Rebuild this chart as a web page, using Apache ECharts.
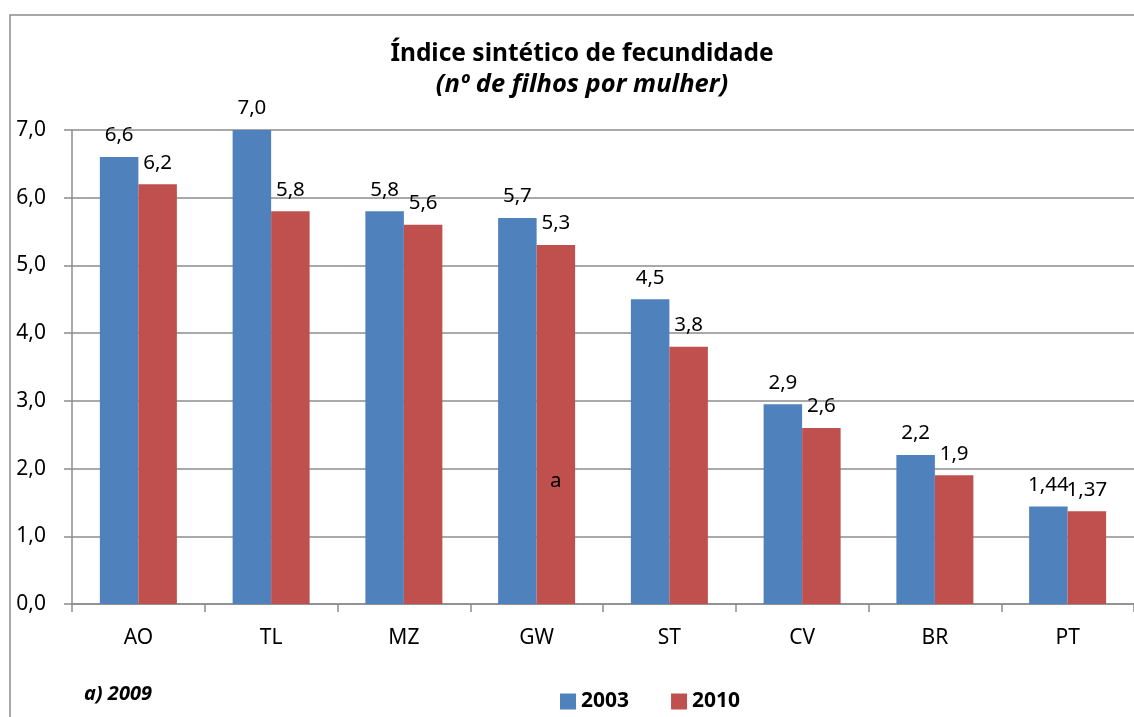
<!DOCTYPE html>
<html>
<head>
<meta charset="utf-8">
<script src="https://cdn.jsdelivr.net/npm/echarts@6/dist/echarts.min.js"></script>
<style>
  html, body { margin: 0; padding: 0; background: #fff; }
  #chart { width: 1134px; height: 717px; }
</style>
</head>
<body>
<div id="chart"></div>
<script>
// data
var categories = ["AO", "TL", "MZ", "GW", "ST", "CV", "BR", "PT"];
var values2003 = [6.6, 7.0, 5.8, 5.7, 4.5, 2.95, 2.2, 1.44];
var values2010 = [6.2, 5.8, 5.6, 5.3, 3.8, 2.6, 1.9, 1.37];
var labels2003 = ["6,6", "7,0", "5,8", "5,7", "4,5", "2,9", "2,2", "1,44"];
var labels2010 = ["6,2", "5,8", "5,6", "5,3", "3,8", "2,6", "1,9", "1,37"];
var yTicks = [0, 1, 2, 3, 4, 5, 6, 7];

var font = "'Noto Sans', 'Open Sans', sans-serif";
var gray = "#8c8c8c";

var chart = echarts.init(document.getElementById("chart"));

var option = {
  animation: false,
  textStyle: { fontFamily: font, color: "#000" },
  title: {
    text: "Índice sintético de fecundidade",
    subtext: "(nº de filhos por mulher)",
    left: 577,
    textAlign: "center",
    top: 37,
    itemGap: 5,
    textStyle: { fontFamily: font, fontSize: 24.5, fontWeight: "bold", color: "#000" },
    subtextStyle: { fontFamily: font, fontSize: 25.5, fontWeight: "bold", fontStyle: "italic", color: "#000" }
  },
  legend: {
    data: ["2003", "2010"],
    left: 555,
    top: 686,
    itemWidth: 16,
    itemHeight: 16,
    itemGap: 42,
    icon: "rect",
    textStyle: { fontFamily: font, fontSize: 21, fontWeight: "bold", color: "#000" }
  },
  graphic: [
    {
      type: "rect",
      shape: { x: 10, y: 15, width: 1140, height: 720 },
      style: { fill: "none", stroke: gray, lineWidth: 1.5 },
      silent: true
    },
    {
      type: "text",
      left: 84,
      top: 684,
      style: { text: "a) 2009", font: "italic bold 20px " + font, fill: "#000" }
    }
  ],
  grid: { left: 72, top: 130, width: 1068, bottom: 113 },
  xAxis: {
    type: "category",
    data: categories,
    axisLine: { lineStyle: { color: gray, width: 1.5 } },
    axisTick: { show: true, length: 8, lineStyle: { color: gray, width: 1.5 } },
    axisLabel: { fontFamily: font, fontSize: 21, color: "#000", margin: 24 }
  },
  yAxis: {
    type: "value",
    min: yTicks[0],
    max: yTicks[yTicks.length - 1],
    interval: 1,
    axisLine: { show: true, lineStyle: { color: gray, width: 1.5 } },
    axisTick: { show: true, length: 8, lineStyle: { color: gray, width: 1.5 } },
    splitLine: { lineStyle: { color: gray, width: 1.5 } },
    axisLabel: {
      fontFamily: font, fontSize: 21, color: "#000", margin: 26,
      formatter: function (v) { return v.toFixed(1).replace(".", ","); }
    }
  },
  series: [
    {
      name: "2003",
      type: "bar",
      data: values2003,
      barGap: "0%",
      barCategoryGap: "42%",
      itemStyle: { color: "#4F81BD" },
      label: {
        show: true, position: "top", distance: 11,
        fontFamily: font, fontSize: 20.5, color: "#000",
        formatter: function (p) { return labels2003[p.dataIndex]; }
      }
    },
    {
      name: "2010",
      type: "bar",
      data: values2010,
      barGap: "0%",
      barCategoryGap: "42%",
      itemStyle: { color: "#C0504D" },
      label: {
        show: true, position: "top", distance: 11,
        fontFamily: font, fontSize: 20.5, color: "#000",
        formatter: function (p) { return labels2010[p.dataIndex]; }
      },
      markPoint: {
        symbol: "rect",
        symbolSize: 0,
        silent: true,
        data: [{ coord: ["GW", 1.82], value: "a" }],
        label: { show: true, position: "inside", formatter: "a", fontFamily: font, fontSize: 20.5, color: "#000" }
      }
    }
  ]
};

chart.setOption(option);
</script>
</body>
</html>
